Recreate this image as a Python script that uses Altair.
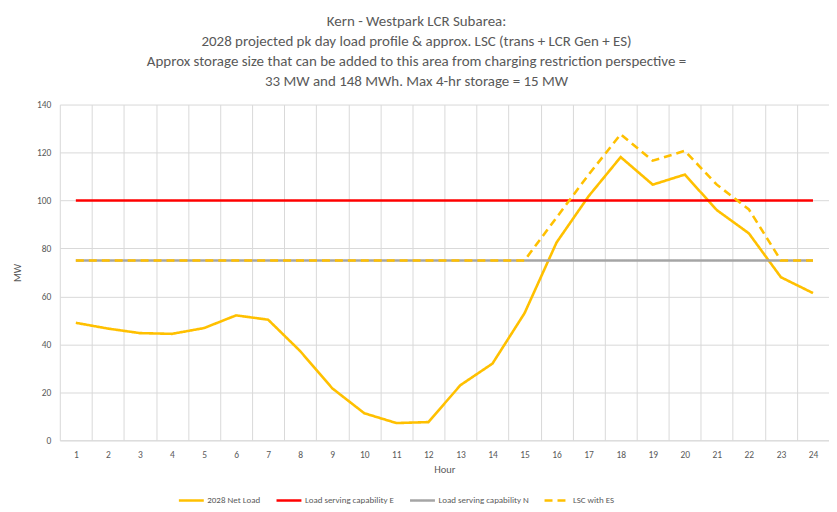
import altair as alt
import pandas as pd

hours = list(range(1, 25))
net_load = [49.0, 46.6, 44.7, 44.4, 46.8, 52.1, 50.3, 37.2, 21.7, 11.3, 7.2, 7.6,
            23.0, 32.0, 53.0, 82.5, 101.8, 118.1, 106.6, 110.8, 96.0, 86.3, 68.0, 61.4]
cap_e = [100] * 24
cap_n = [75] * 24
lsc_es = [75, 75, 75, 75, 75, 75, 75, 75, 75, 75, 75, 75,
          75, 75, 75, 92.9, 110.8, 127.6, 116.6, 120.7, 106.6, 96.3, 75, 75]

series_names = ["2028 Net Load", "Load serving capability E",
                "Load serving capability N", "LSC with ES"]
series_colors = ["#FFC000", "#FF0000", "#A5A5A5", "#FFC000"]
series_dash = [[1, 0], [1, 0], [1, 0], [8, 5]]

rows = []
for name, vals in zip(series_names, [net_load, cap_e, cap_n, lsc_es]):
    for h, v in zip(hours, vals):
        rows.append({"Hour": h, "MW": v, "series": name, "order": series_names.index(name)})
df = pd.DataFrame(rows)

FONT = "Carlito, Calibri, 'Liberation Sans Narrow', 'Open Sans', sans-serif"
TXT = "#595959"

chart = alt.Chart(df).mark_line(strokeWidth=2.6).encode(
    x=alt.X("Hour:O", scale=alt.Scale(type="band", paddingInner=0, paddingOuter=0),
            bandPosition=0.5,
            axis=alt.Axis(tickBand="extent", labelAngle=0, ticks=False, grid=True,
                          gridColor="#D9D9D9", domainColor="#D9D9D9",
                          labelColor=TXT, labelFontSize=9.5, labelFont=FONT,
                          labelPadding=9, titleColor=TXT, titleFont=FONT,
                          titleFontSize=10.5, titleFontWeight="normal", titlePadding=6)),
    y=alt.Y("MW:Q", scale=alt.Scale(domain=[0, 140], nice=False),
            axis=alt.Axis(values=list(range(0, 141, 20)), ticks=False, domain=False,
                          gridColor="#D9D9D9", labelColor=TXT, labelFontSize=9.5,
                          labelFont=FONT, labelPadding=9, titleColor=TXT,
                          titleFont=FONT, titleFontSize=10.5, titleFontWeight="normal",
                          titlePadding=14)),
    color=alt.Color("series:N", scale=alt.Scale(domain=series_names, range=series_colors),
                    sort=series_names,
                    legend=alt.Legend(title=None, orient="none", direction="horizontal",
                                      legendX=118, legendY=383, padding=0,
                                      symbolType="stroke",
                                      symbolSize=625, symbolStrokeWidth=2.6,
                                      labelFont=FONT, labelFontSize=9, labelColor=TXT,
                                      labelOffset=2, columnPadding=10)),
    strokeDash=alt.StrokeDash("series:N", scale=alt.Scale(domain=series_names, range=series_dash),
                              sort=series_names, legend=None),
    order=alt.Order("order:Q"),
    detail="series:N",
).properties(
    width=772,
    height=337,
    title=alt.TitleParams(
        text=["Kern - Westpark LCR Subarea:",
              "2028 projected pk day load profile & approx. LSC (trans + LCR Gen + ES)",
              "Approx storage size that can be added to this area from charging restriction perspective =",
              "33 MW and 148 MWh. Max 4-hr storage = 15 MW"],
        font=FONT, fontSize=15, fontWeight="normal", color=TXT, lineHeight=20,
        anchor="middle", dx=-28, offset=11),
    autosize=alt.AutoSizeParams(type="none"),
    padding={"left": 52, "top": 96, "right": 0, "bottom": 63},
).configure_view(stroke=None)

chart.save("out.html", embed_options={"renderer": "svg", "actions": False})
